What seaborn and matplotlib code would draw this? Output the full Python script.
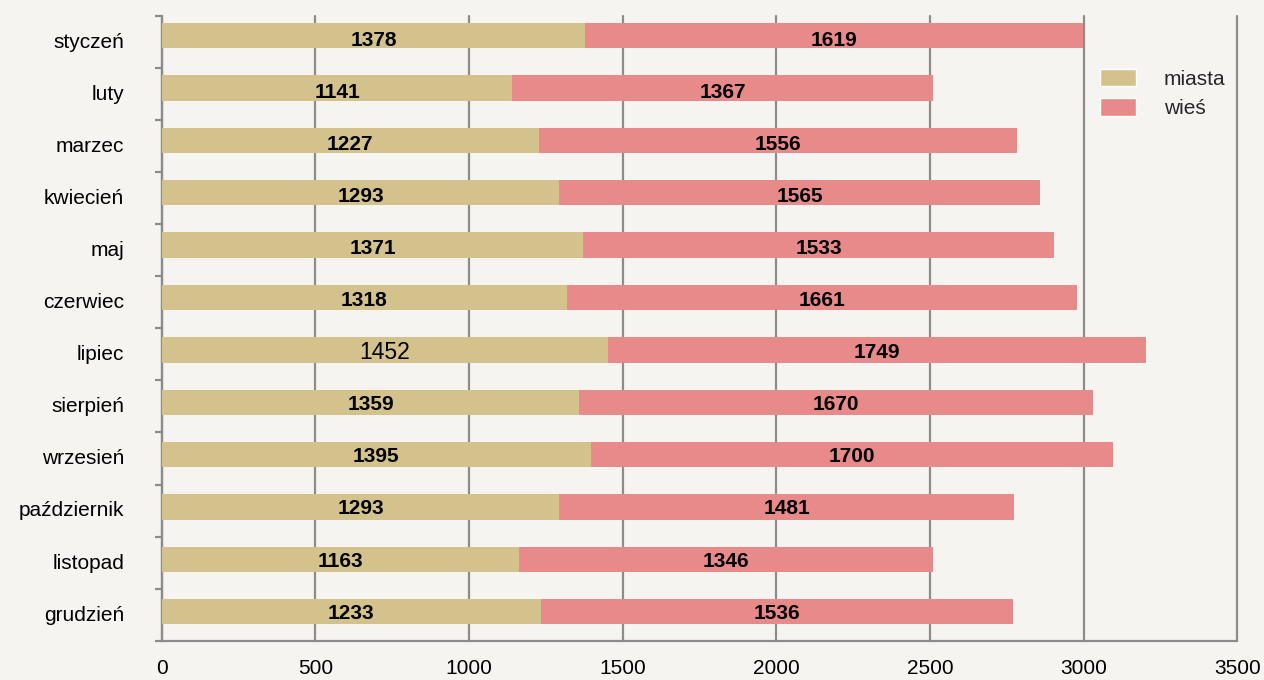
import numpy as np
import matplotlib
matplotlib.use('Agg')
import matplotlib.pyplot as plt
import seaborn as sns
from matplotlib.patches import Patch
from matplotlib.ticker import FixedLocator

# Data
months = ['styczeń', 'luty', 'marzec', 'kwiecień', 'maj', 'czerwiec', 'lipiec',
          'sierpień', 'wrzesień', 'październik', 'listopad', 'grudzień']
miasta = [1378, 1141, 1227, 1293, 1371, 1318, 1452, 1359, 1395, 1293, 1163, 1233]
wies = [1619, 1367, 1556, 1565, 1533, 1661, 1749, 1670, 1700, 1481, 1346, 1536]
total = [m + w for m, w in zip(miasta, wies)]

bg = '#f5f4f0'
c_miasta = '#d4c28c'
c_wies = '#e8898a'
grey = '#8c8c8c'

sns.set_theme(style='white')
plt.rcParams['font.family'] = ['Liberation Sans', 'DejaVu Sans']

fig = plt.figure(figsize=(12.64, 6.8), dpi=100, facecolor=bg)
ax = fig.add_axes([0.128, 0.0578, 0.851, 0.9187])
ax.set_facecolor(bg)

# stacked: total bar (wieś colour) underneath, miasta on top
sns.barplot(x=total, y=months, color=c_wies, orient='h', width=0.483,
            saturation=1, linewidth=0, edgecolor='none', ax=ax, zorder=2)
sns.barplot(x=miasta, y=months, color=c_miasta, orient='h', width=0.483,
            saturation=1, linewidth=0, edgecolor='none', ax=ax, zorder=3)

# category bands (the bars sit a little above band centres in the original)
y_top, y_bot = -0.376, 11.554
edges = np.linspace(y_top, y_bot, len(months) + 1)
centres = (edges[:-1] + edges[1:]) / 2 - 0.03

# value labels
for i, (m, w) in enumerate(zip(miasta, wies)):
    yc = centres[i]
    if m == 1452:
        ax.text(m / 2, yc, f'{m}', ha='center', va='center', fontsize=16.5,
                color='black', zorder=4)
    else:
        ax.text(m / 2, yc, f'{m}', ha='center', va='center', fontsize=15,
                fontweight='bold', color='black', zorder=4)
    ax.text(m + w / 2, yc, f'{w}', ha='center', va='center', fontsize=15,
            fontweight='bold', color='black', zorder=4)

ax.set_xlim(0, 3500)
ax.set_ylim(y_bot, y_top)
ax.set_xticks(np.arange(0, 3501, 500))
ax.set_yticks(centres, months)
ax.set_xlabel('')
ax.set_ylabel('')

# vertical grid
ax.grid(axis='x', color=grey, linewidth=1.6, zorder=1)
ax.set_axisbelow(True)
for gl in ax.get_xgridlines():
    gl.set_clip_on(False)

for s in ['top', 'right']:
    ax.spines[s].set_visible(False)
for s in ['left', 'bottom']:
    ax.spines[s].set_color(grey)
    ax.spines[s].set_linewidth(1.6)

ax.tick_params(axis='x', length=0, pad=13, labelsize=15, colors='black')
ax.tick_params(axis='y', which='major', length=0, pad=27, labelsize=15, colors='black')
ax.yaxis.set_minor_locator(FixedLocator(edges))
ax.tick_params(axis='y', which='minor', length=5, width=1.6, color=grey, left=True)

handles = [Patch(facecolor=c_miasta, label='miasta'), Patch(facecolor=c_wies, label='wieś')]
leg = ax.legend(handles=handles, loc='upper left', bbox_to_anchor=(1100 / 1264, 1 - 69 / 680),
                bbox_transform=fig.transFigure, borderpad=0, borderaxespad=0,
                frameon=False, fontsize=15, handlelength=1.75, handleheight=0.9,
                handletextpad=1.3, labelspacing=0.45)

fig.savefig('out.png', dpi=100, facecolor=bg)
